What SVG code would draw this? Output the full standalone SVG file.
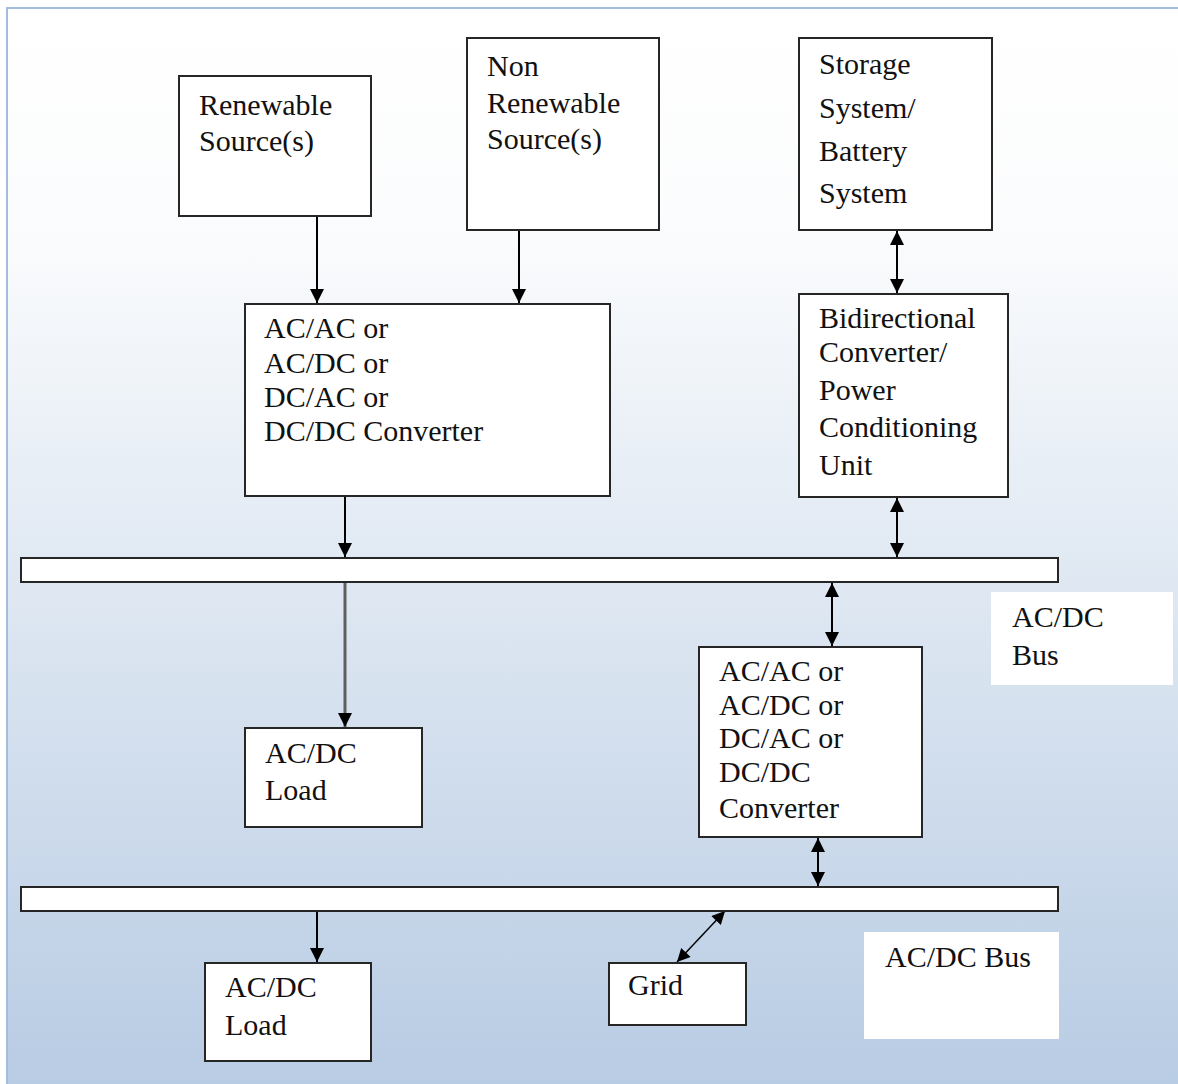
<svg xmlns="http://www.w3.org/2000/svg" width="1178" height="1084" viewBox="0 0 1178 1084">
  <defs>
    <linearGradient id="bg" x1="0" y1="0" x2="0" y2="1">
      <stop offset="0" stop-color="#ffffff"/>
      <stop offset="0.2" stop-color="#fbfcfd"/>
      <stop offset="1" stop-color="#b7cbe3"/>
    </linearGradient>
    <marker id="ah" viewBox="0 0 14 14" refX="14" refY="7" markerWidth="14" markerHeight="14" markerUnits="userSpaceOnUse" orient="auto-start-reverse">
      <path d="M0,0 L14,7 L0,14 Z" fill="#000"/>
    </marker>
    <marker id="ahs" viewBox="0 0 14 14" refX="14" refY="7" markerWidth="14" markerHeight="13" markerUnits="userSpaceOnUse" orient="auto-start-reverse">
      <path d="M0,0 L14,7 L0,14 Z" fill="#000"/>
    </marker>
  </defs>
  <style>
    .box { fill: #ffffff; stroke: #262626; stroke-width: 2; }
    .lbl { fill: #ffffff; stroke: none; }
    .t { font-family: "Liberation Serif", "Times New Roman", serif; font-size: 30px; fill: #111; }
    .c { stroke: #000; stroke-width: 2; fill: none; }
  </style>

  <!-- page -->
  <rect x="0" y="0" width="1178" height="1084" fill="#ffffff"/>
  <rect x="7" y="8" width="1180" height="1090" fill="url(#bg)" stroke="#a3bbdc" stroke-width="2"/>

  <!-- connectors -->
  <g id="connectors">
    <line class="c" x1="317" y1="216" x2="317" y2="303" marker-end="url(#ah)"/>
    <line class="c" x1="519" y1="230" x2="519" y2="303" marker-end="url(#ah)"/>
    <line class="c" x1="897" y1="231" x2="897" y2="293" marker-start="url(#ah)" marker-end="url(#ah)"/>
    <line class="c" x1="345" y1="496" x2="345" y2="557" marker-end="url(#ah)"/>
    <line class="c" x1="897" y1="498" x2="897" y2="557" marker-start="url(#ah)" marker-end="url(#ah)"/>
    <line x1="345" y1="583" x2="345" y2="727" stroke="#5f5f5f" stroke-width="3" marker-end="url(#ah)"/>
    <line class="c" x1="832" y1="583" x2="832" y2="646" marker-start="url(#ah)" marker-end="url(#ah)"/>
    <line class="c" x1="818" y1="838" x2="818" y2="886" marker-start="url(#ah)" marker-end="url(#ah)"/>
    <line class="c" x1="317" y1="911" x2="317" y2="962" marker-end="url(#ah)"/>
    <line x1="725" y1="911" x2="677" y2="962" stroke="#000" stroke-width="1.5" marker-start="url(#ahs)" marker-end="url(#ahs)"/>
  </g>

  <!-- buses -->
  <g id="bus-upper">
    <rect class="box" x="21" y="558" width="1037" height="24"/>
  </g>
  <g id="bus-lower">
    <rect class="box" x="21" y="887" width="1037" height="24"/>
  </g>

  <g id="renewable">
    <rect class="box" x="179" y="76" width="192" height="140"/>
    <text class="t" x="199" y="115">Renewable</text>
    <text class="t" x="199" y="151">Source(s)</text>
  </g>

  <g id="non-renewable">
    <rect class="box" x="467" y="38" width="192" height="192"/>
    <text class="t" x="487" y="76">Non</text>
    <text class="t" x="487" y="113">Renewable</text>
    <text class="t" x="487" y="149">Source(s)</text>
  </g>

  <g id="storage">
    <rect class="box" x="799" y="38" width="193" height="192"/>
    <text class="t" x="819" y="74">Storage</text>
    <text class="t" x="819" y="118">System/</text>
    <text class="t" x="819" y="161">Battery</text>
    <text class="t" x="819" y="203">System</text>
  </g>

  <g id="bidirectional">
    <rect class="box" x="799" y="294" width="209" height="203"/>
    <text class="t" x="819" y="328">Bidirectional</text>
    <text class="t" x="819" y="362">Converter/</text>
    <text class="t" x="819" y="400">Power</text>
    <text class="t" x="819" y="437">Conditioning</text>
    <text class="t" x="819" y="475">Unit</text>
  </g>

  <g id="converter-source">
    <rect class="box" x="245" y="304" width="365" height="192"/>
    <text class="t" x="264" y="338">AC/AC or</text>
    <text class="t" x="264" y="373">AC/DC or</text>
    <text class="t" x="264" y="407">DC/AC or</text>
    <text class="t" x="264" y="441">DC/DC Converter</text>
  </g>

  <g id="bus-label-upper">
    <rect class="lbl" x="991" y="592" width="182" height="93"/>
    <text class="t" x="1012" y="627">AC/DC</text>
    <text class="t" x="1012" y="665">Bus</text>
  </g>

  <g id="converter-grid">
    <rect class="box" x="699" y="647" width="223" height="190"/>
    <text class="t" x="719" y="681">AC/AC or</text>
    <text class="t" x="719" y="715">AC/DC or</text>
    <text class="t" x="719" y="748">DC/AC or</text>
    <text class="t" x="719" y="782">DC/DC</text>
    <text class="t" x="719" y="818">Converter</text>
  </g>

  <g id="load-upper">
    <rect class="box" x="245" y="728" width="177" height="99"/>
    <text class="t" x="265" y="763">AC/DC</text>
    <text class="t" x="265" y="800">Load</text>
  </g>

  <g id="load-lower">
    <rect class="box" x="205" y="963" width="166" height="98"/>
    <text class="t" x="225" y="997">AC/DC</text>
    <text class="t" x="225" y="1035">Load</text>
  </g>

  <g id="grid">
    <rect class="box" x="609" y="963" width="137" height="62"/>
    <text class="t" x="628" y="995">Grid</text>
  </g>

  <g id="bus-label-lower">
    <rect class="lbl" x="864" y="932" width="195" height="107"/>
    <text class="t" x="885" y="967">AC/DC Bus</text>
  </g>
</svg>
